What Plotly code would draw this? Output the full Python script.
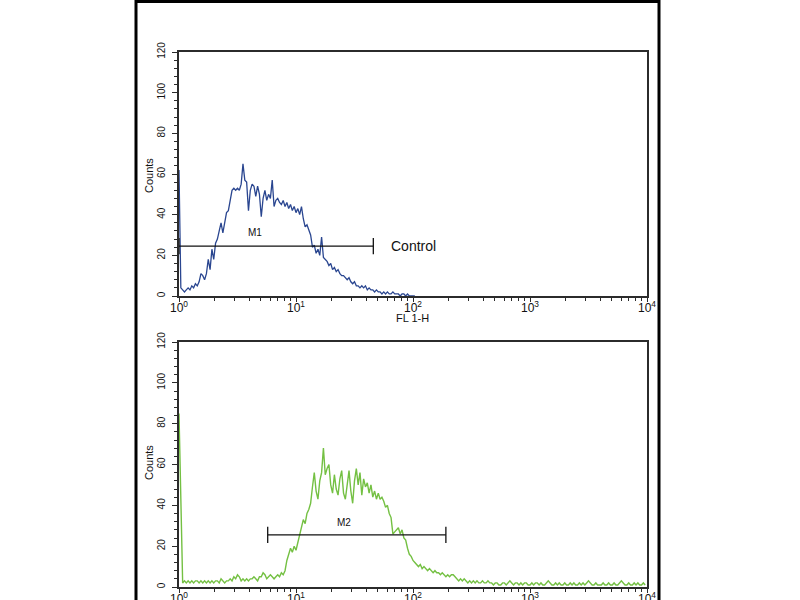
import math
import plotly.graph_objects as go

# flow cytometry histograms, 256 log channels over 4 decades (64 channels / decade)
CH_PER_DECADE = 64

control_counts = [
    62, 4, 3, 2, 3, 4, 3, 5, 4, 6,
    5, 7, 11, 10, 8, 11, 18, 13, 23, 18,
    26, 28, 32, 36, 31, 37, 41, 42, 47, 52,
    53, 52, 53, 52, 55, 65, 57, 56, 42, 52,
    55, 54, 49, 54, 50, 39, 48, 52, 47, 50,
    48, 57, 44, 47, 48, 46, 45, 47, 44, 46,
    43, 45, 42, 44, 41, 43, 40, 44, 38, 34,
    35, 32, 30, 24, 25, 21, 23, 20, 29, 19,
    18, 17, 15, 16, 13, 14, 12, 13, 11, 10,
    10, 9, 8, 9, 7, 6, 7, 5, 5, 4,
    5, 4, 5, 3, 4, 3, 3, 2, 3, 2,
    2, 1, 2, 1, 2, 1, 1, 2, 1, 1,
    1, 0, 1, 1, 0, 1, 0, 0, 0, 0,
]

sample_counts = [
    85, 42, 2, 3, 2, 3, 2, 3, 2, 3,
    3, 2, 3, 2, 3, 2, 3, 2, 3, 2,
    3, 3, 2, 4, 3, 2, 3, 3, 4, 3,
    5, 4, 6, 5, 3, 4, 3, 4, 3, 4,
    4, 5, 4, 3, 5, 5, 7, 6, 4, 5,
    6, 5, 4, 5, 6, 5, 7, 6, 8, 13,
    16, 19, 17, 20, 18, 22, 26, 30, 33, 31,
    36, 38, 41, 49, 56, 47, 43, 52, 56, 68,
    55, 58, 60, 50, 46, 55, 48, 45, 53, 57,
    46, 43, 51, 57, 47, 41, 52, 58, 50, 56,
    45, 53, 49, 51, 46, 50, 44, 47, 43, 46,
    43, 44, 42, 39, 40, 36, 34, 26, 27, 28,
    29, 26, 28, 24, 23, 19, 16, 15, 13, 12,
    11, 10, 11, 9, 10, 9, 8, 9, 8, 7,
    8, 7, 7, 6, 7, 6, 5, 6, 5, 6,
    6, 5, 4, 3, 4, 3, 4, 3, 2, 3,
    2, 3, 2, 3, 2, 2, 3, 2, 2, 3,
    2, 2, 1, 2, 2, 1, 1, 2, 2, 1,
    2, 3, 2, 1, 2, 2, 1, 2, 1, 2,
    2, 1, 1, 2, 1, 2, 2, 1, 2, 1,
    1, 2, 3, 2, 1, 1, 2, 1, 2, 1,
    1, 2, 1, 1, 2, 1, 2, 1, 1, 2,
    1, 2, 1, 2, 3, 2, 1, 1, 2, 1,
    1, 1, 2, 1, 1, 2, 1, 1, 2, 1,
    1, 2, 3, 2, 1, 1, 2, 1, 1, 2,
    1, 2, 1, 1, 2, 1,
]

# marker gates: (low, high, level, label x, label y)
m1 = (1.0, 45.8, 24.5, 4.5, 31)
m2 = (5.73, 191.0, 25.5, 25.7, 31.5)

tick_vals = [1, 10, 100, 1000, 10000]
tick_text = ["10<sup>0</sup>", "10<sup>1</sup>", "10<sup>2</sup>", "10<sup>3</sup>", "10<sup>4</sup>"]
count_ticks = [0, 20, 40, 60, 80, 100, 120]

BLUE = "#2a4690"
GREEN = "#74c043"
AXIS = "#2b2b2b"
NARROW = "Liberation Sans Narrow, Liberation Sans, Arial"
W, H = 800, 600


def px_x(p):
    return p / W


def px_y(p):
    return 1 - p / H


def channel_x(n):
    return [10 ** (k / CH_PER_DECADE) for k in range(n)]


def gate_trace(gate, xa, ya):
    lo, hi, lvl, _, _ = gate
    return go.Scatter(x=[lo, hi, None, lo, lo, None, hi, hi],
                      y=[lvl, lvl, None, lvl - 4, lvl + 4, None, lvl - 4, lvl + 4],
                      mode="lines", line=dict(color="#111111", width=1.3),
                      xaxis=xa, yaxis=ya, hoverinfo="skip")


minor_x = [m * 10 ** d for d in range(4) for m in range(2, 10)]

xstyle = dict(type="log", range=[0, 4], tickmode="array", tickvals=tick_vals, ticktext=tick_text,
              ticks="outside", ticklen=4, tickwidth=1.2, tickcolor=AXIS, ticklabelstandoff=-4,
              showline=True, linecolor=AXIS, linewidth=1.8, mirror=True,
              showgrid=False, zeroline=False, automargin=False,
              tickfont=dict(family="Liberation Sans, Arial", size=12, color="#111"),
              minor=dict(tickmode="array", tickvals=minor_x, ticks="outside", ticklen=3,
                         tickwidth=1, tickcolor=AXIS, showgrid=False))
ystyle = dict(range=[0, 120], tickmode="array", tickvals=count_ticks, ticks="outside",
              ticklen=5, tickwidth=1.2, tickcolor=AXIS, tickangle=-90, ticklabelstandoff=3,
              showline=True, linecolor=AXIS, linewidth=1.8, mirror=True,
              showgrid=False, zeroline=False, automargin=False,
              tickfont=dict(family=NARROW, size=10, color="#111"),
              minor=dict(dtick=4, ticks="outside", ticklen=3, tickwidth=1,
                         tickcolor=AXIS, showgrid=False))

fig = go.Figure()
fig.add_trace(go.Scatter(x=channel_x(len(control_counts)), y=control_counts, mode="lines",
                         line=dict(color=BLUE, width=1.3), xaxis="x", yaxis="y"))
fig.add_trace(gate_trace(m1, "x", "y"))
fig.add_trace(go.Scatter(x=channel_x(len(sample_counts)), y=sample_counts, mode="lines",
                         line=dict(color=GREEN, width=1.4), xaxis="x2", yaxis="y2"))
fig.add_trace(gate_trace(m2, "x2", "y2"))

fig.update_layout(
    width=W, height=H, template="none", showlegend=False,
    margin=dict(l=0, r=0, t=0, b=0),
    paper_bgcolor="white", plot_bgcolor="white",
    xaxis=dict(domain=[px_x(179), px_x(647)], anchor="y", **xstyle),
    yaxis=dict(domain=[px_y(296), px_y(52)], anchor="x", **ystyle),
    xaxis2=dict(domain=[px_x(179), px_x(647)], anchor="y2", **xstyle),
    yaxis2=dict(domain=[px_y(587), px_y(342)], anchor="x2", **ystyle),
)

# frame around the whole figure
fig.add_shape(type="rect", xref="paper", yref="paper", x0=px_x(136), x1=px_x(659),
              y0=px_y(640), y1=px_y(1.5), line=dict(color="black", width=3))

notes = [
    dict(text="Counts", x=px_x(149), y=px_y(176), textangle=-90, font=dict(family=NARROW, size=11)),
    dict(text="Counts", x=px_x(149), y=px_y(463), textangle=-90, font=dict(family=NARROW, size=11)),
    dict(text="FL 1-H", x=px_x(412), y=px_y(318), font=dict(family=NARROW, size=11)),
    dict(text="Control", x=px_x(413), y=px_y(246), font=dict(family="Liberation Sans, Arial", size=14)),
]
for n in notes:
    n["font"]["color"] = "#111"
    fig.add_annotation(xref="paper", yref="paper", showarrow=False,
                       xanchor="center", yanchor="middle", **n)

# annotation x on a log axis is given in log10 units
fig.add_annotation(text="M1", x=math.log10(m1[3]), y=m1[4], xref="x", yref="y", showarrow=False,
                   xanchor="center", yanchor="middle", font=dict(family=NARROW, size=10, color="#111"))
fig.add_annotation(text="M2", x=math.log10(m2[3]), y=m2[4], xref="x2", yref="y2", showarrow=False,
                   xanchor="center", yanchor="middle", font=dict(family=NARROW, size=10, color="#111"))

# drop the page's default body margin so the 800x600 figure fills the window
fig.write_html("out.html", config={"displayModeBar": False},
               post_script="document.body.style.margin = '0px';")
